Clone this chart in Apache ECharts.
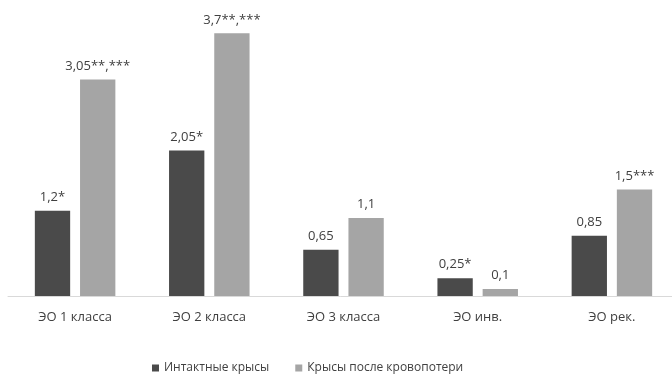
<!DOCTYPE html>
<html>
<head>
<meta charset="utf-8">
<script src="https://cdn.jsdelivr.net/npm/echarts@6/dist/echarts.min.js"></script>
<style>
  html, body { margin: 0; padding: 0; background: #fff; }
  #chart { width: 672px; height: 374px; }
</style>
</head>
<body>
<div id="chart"></div>
<script>
var categories = ['ЭО 1 класса', 'ЭО 2 класса', 'ЭО 3 класса', 'ЭО инв.', 'ЭО рек.'];
var intactValues = [1.2, 2.05, 0.65, 0.25, 0.85];
var intactLabels = ['1,2*', '2,05*', '0,65', '0,25*', '0,85'];
var bloodLossValues = [3.05, 3.7, 1.1, 0.1, 1.5];
var bloodLossLabels = ['3,05**,***', '3,7**,***', '1,1', '0,1', '1,5***'];
var seriesNames = ['Интактные крысы', 'Крысы после кровопотери'];

var chart = echarts.init(document.getElementById('chart'));
var font = '"Open Sans", "Noto Sans", sans-serif';

function labelFor(texts) {
  return {
    show: true,
    position: 'top',
    distance: 7,
    color: '#404040',
    fontSize: 13,
    fontFamily: font,
    formatter: function (p) { return texts[p.dataIndex]; }
  };
}

var option = {
  animation: false,
  grid: { left: 8, right: -7, top: 12, bottom: 78, outerBoundsMode: 'none', containLabel: false },
  legend: {
    bottom: 0,
    left: 152,
    padding: 0,
    itemWidth: 7,
    itemHeight: 7,
    itemGap: 26,
    icon: 'rect',
    textStyle: { color: '#404040', fontSize: 12, fontFamily: font },
    data: seriesNames
  },
  xAxis: {
    type: 'category',
    data: categories,
    axisLine: { lineStyle: { color: '#d9d9d9', width: 1 } },
    axisTick: { show: false },
    axisLabel: { color: '#404040', fontSize: 13, fontFamily: font, margin: 15 }
  },
  yAxis: {
    type: 'value',
    min: 0,
    max: 4,
    show: false,
    splitLine: { show: false }
  },
  series: [
    {
      name: seriesNames[0],
      type: 'bar',
      data: intactValues,
      itemStyle: { color: '#4a4a4a' },
      barGap: '28%',
      barCategoryGap: '40%',
      label: labelFor(intactLabels)
    },
    {
      name: seriesNames[1],
      type: 'bar',
      data: bloodLossValues,
      itemStyle: { color: '#a5a5a5' },
      label: labelFor(bloodLossLabels)
    }
  ]
};

chart.setOption(option);
window.onresize = chart.resize;
</script>
</body>
</html>
